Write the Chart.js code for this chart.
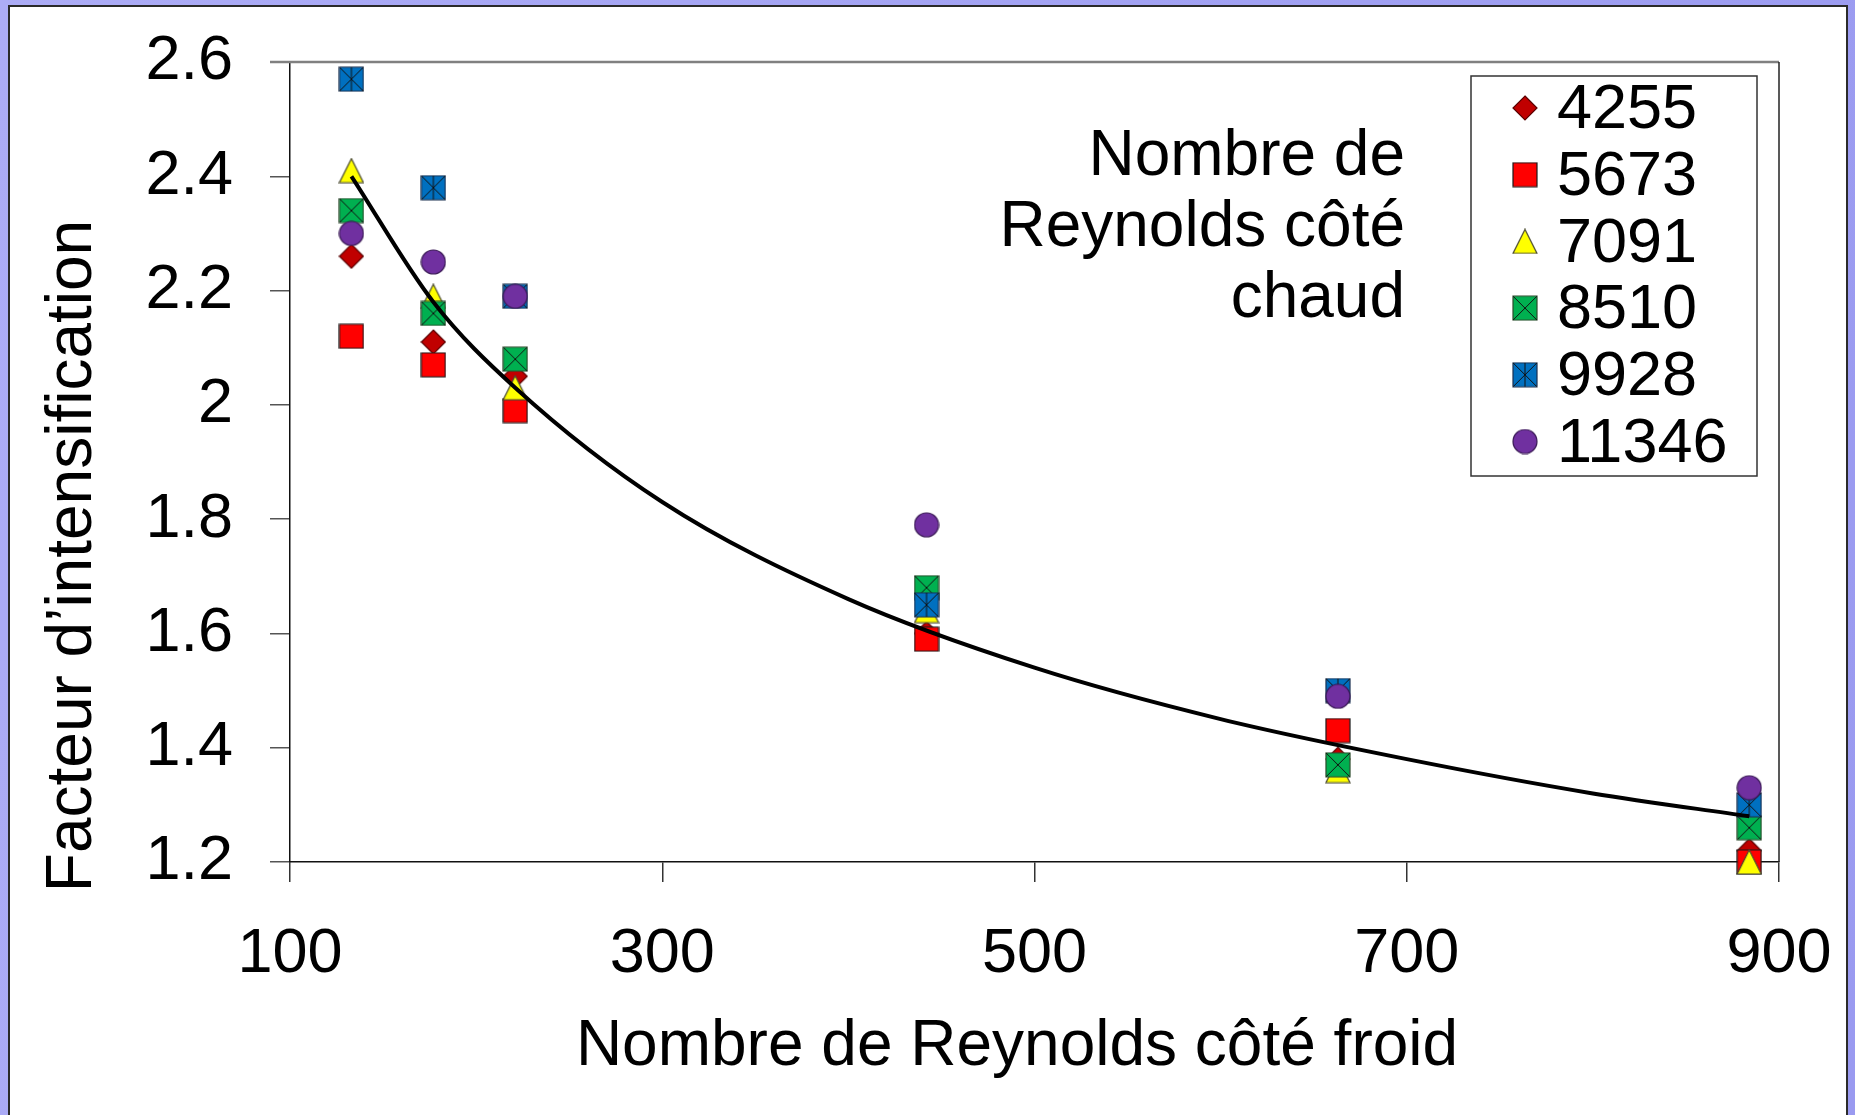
<!DOCTYPE html>
<html>
<head>
<meta charset="utf-8">
<title>Facteur d'intensification</title>
<script src="https://cdn.jsdelivr.net/npm/chart.js@4.4.0/dist/chart.umd.min.js"></script>
<style>
    html, body {
        margin: 0;
        padding: 0;
        width: 1855px;
        height: 1115px;
        overflow: hidden;
        background: linear-gradient(100deg, #acacf6 0%, #a3a3f3 50%, #9a9af0 100%);
    }

    #panel {
        position: absolute;
        left: 8px;
        top: 5px;
        width: 1840px;
        height: 1130px;
        box-sizing: border-box;
        background: #ffffff;
        border: 2px solid #2a2a2a;
    }

    #chart {
        position: absolute;
        left: 0;
        top: 0;
    }
</style>
</head>
<body>

<div id="panel"></div>
<canvas id="chart" width="1855" height="1115"></canvas>

<script>
// ===============================
// DATA
// ===============================

const reynoldsFroid = [133, 177, 221, 442, 663, 884];

const serie4255 = [2.26, 2.11, 2.05, 1.60, 1.38, 1.22];
const serie5673 = [2.12, 2.07, 1.99, 1.59, 1.43, 1.20];
const serie7091 = [2.41, 2.19, 2.03, 1.64, 1.36, 1.20];
const serie8510 = [2.34, 2.16, 2.08, 1.68, 1.37, 1.26];
const serie9928 = [2.57, 2.38, 2.19, 1.65, 1.50, 1.30];
const serie11346 = [2.30, 2.25, 2.19, 1.79, 1.49, 1.33];

const seriesLabels = ["4255", "5673", "7091", "8510", "9928", "11346"];

// trend curve
const trendX = [133, 177, 221, 300, 400, 500, 600, 700, 800, 884];
const trendY = [2.40, 2.18, 2.03, 1.83, 1.66, 1.54, 1.45, 1.38, 1.32, 1.28];

const xTicks = [100, 300, 500, 700, 900];
const yTicks = [1.2, 1.4, 1.6, 1.8, 2.0, 2.2, 2.4, 2.6];
const yTickLabels = ["1.2", "1.4", "1.6", "1.8", "2", "2.2", "2.4", "2.6"];

const xTitle = "Nombre de Reynolds côté froid";
const yTitle = "Facteur d’intensification";
const noteLines = ["Nombre de", "Reynolds côté", "chaud"];

// ===============================
// MARKERS
// ===============================

const FONT = "'Liberation Sans', Arial, sans-serif";

function makeMarker(shape, fill, stroke) {

    const s = 26;
    const c = document.createElement("canvas");
    c.width = s;
    c.height = s;

    const g = c.getContext("2d");
    const m = 1;
    const e = s - 1;

    g.fillStyle = fill;
    g.strokeStyle = stroke;
    g.lineWidth = 1.2;

    g.beginPath();

    if (shape === "diamond") {
        g.moveTo(s / 2, m);
        g.lineTo(e, s / 2);
        g.lineTo(s / 2, e);
        g.lineTo(m, s / 2);
        g.closePath();
    } else if (shape === "triangle") {
        g.moveTo(s / 2, m);
        g.lineTo(e, e);
        g.lineTo(m, e);
        g.closePath();
    } else if (shape === "circle") {
        g.arc(s / 2, s / 2, s / 2 - 1, 0, Math.PI * 2);
    } else {
        g.rect(m, m, e - m, e - m);
    }

    g.fill();
    g.stroke();

    if (shape === "xbox" || shape === "starbox") {
        g.beginPath();
        g.moveTo(m, m);
        g.lineTo(e, e);
        g.moveTo(e, m);
        g.lineTo(m, e);
        if (shape === "starbox") {
            g.moveTo(s / 2, m);
            g.lineTo(s / 2, e);
        }
        g.strokeStyle = "#111";
        g.lineWidth = 1;
        g.stroke();
    }

    return c;
}

const markers = [
    makeMarker("diamond", "#c00000", "#5a0000"),
    makeMarker("square", "#ff0000", "#1a1a1a"),
    makeMarker("triangle", "#ffff00", "#4a4a30"),
    makeMarker("xbox", "#00b050", "#2a4a2a"),
    makeMarker("starbox", "#0070c0", "#1a3050"),
    makeMarker("circle", "#7030a0", "#3a1a55")
];

const seriesValues = [serie4255, serie5673, serie7091, serie8510, serie9928, serie11346];

function toPoints(xs, ys) {
    return xs.map((x, i) => ({ x: x, y: ys[i] }));
}

// scales keep the size we give them and ask for no extra room
function fixScale(size) {
    return scale => {
        if (scale.isHorizontal()) {
            scale.height = size;
        } else {
            scale.width = size;
        }
        scale.paddingTop = 0;
        scale.paddingBottom = 0;
        scale.paddingLeft = 0;
        scale.paddingRight = 0;
    };
}

// ===============================
// PLUGINS
// ===============================

const framePlugin = {

    id: "frame",

    beforeDatasetsDraw(chart) {

        const ctx = chart.ctx;
        const a = chart.chartArea;

        ctx.save();

        ctx.strokeStyle = "#808080";
        ctx.lineWidth = 2.5;
        ctx.beginPath();
        ctx.moveTo(a.left - 20, a.top);
        ctx.lineTo(a.right, a.top);
        ctx.stroke();

        ctx.strokeStyle = "#222";
        ctx.lineWidth = 1.5;
        ctx.beginPath();
        ctx.moveTo(a.right, a.top);
        ctx.lineTo(a.right, a.bottom);
        ctx.stroke();

        ctx.restore();
    }
};

const textPlugin = {

    id: "texts",

    afterDraw(chart) {

        const ctx = chart.ctx;

        ctx.save();
        ctx.fillStyle = "#000";

        // axis titles
        ctx.font = "64px " + FONT;
        ctx.textAlign = "center";
        ctx.textBaseline = "alphabetic";
        ctx.fillText(xTitle, 1017, 1065);

        ctx.save();
        ctx.translate(91, 556);
        ctx.rotate(-Math.PI / 2);
        ctx.fillText(yTitle, 0, 0);
        ctx.restore();

        // note inside the plot
        ctx.textAlign = "right";
        noteLines.forEach((line, i) => {
            ctx.fillText(line, 1405, 175 + i * 71);
        });

        // legend box
        const box = { left: 1471, top: 76, right: 1757, bottom: 476 };

        ctx.fillStyle = "#fff";
        ctx.fillRect(box.left, box.top, box.right - box.left, box.bottom - box.top);
        ctx.strokeStyle = "#333";
        ctx.lineWidth = 1.5;
        ctx.strokeRect(box.left, box.top, box.right - box.left, box.bottom - box.top);

        ctx.font = "63px " + FONT;
        ctx.textAlign = "left";
        ctx.textBaseline = "middle";
        ctx.fillStyle = "#000";

        seriesLabels.forEach((label, i) => {
            const cy = 108 + i * 66.7;
            const img = markers[i];
            ctx.drawImage(img, 1525 - img.width / 2, cy - img.height / 2);
            ctx.fillText(label, 1557, cy + 3);
        });

        ctx.restore();
    }
};

// ===============================
// CHART
// ===============================

const datasets = seriesLabels.map((label, i) => ({
    label: label,
    data: toPoints(reynoldsFroid, seriesValues[i]),
    pointStyle: markers[i],
    pointRadius: 13,
    showLine: false,
    clip: false,
    order: seriesLabels.length - i
}));

datasets.push({
    label: "tendance",
    type: "line",
    data: toPoints(trendX, trendY),
    borderColor: "#000",
    borderWidth: 4,
    pointRadius: 0,
    cubicInterpolationMode: "monotone",
    fill: false,
    clip: false,
    order: 0
});

const tickFont = { family: FONT, size: 63 };

new Chart(document.getElementById("chart"), {

    type: "scatter",

    data: { datasets: datasets },

    plugins: [framePlugin, textPlugin],

    options: {

        responsive: false,
        devicePixelRatio: 1,
        animation: false,
        events: [],

        layout: {
            padding: { left: 0, top: 62, right: 76, bottom: 0 }
        },

        plugins: {
            legend: { display: false },
            tooltip: { enabled: false }
        },

        scales: {

            x: {
                type: "linear",
                min: 100,
                max: 900,
                afterFit: fixScale(253),
                afterBuildTicks: scale => {
                    scale.ticks = xTicks.map(v => ({ value: v }));
                },
                ticks: {
                    color: "#000",
                    font: tickFont,
                    padding: 35,
                    maxRotation: 0,
                    callback: v => String(v)
                },
                grid: {
                    drawOnChartArea: false,
                    drawTicks: true,
                    tickLength: 20,
                    color: "#333",
                    lineWidth: 1.5
                },
                border: { display: true, color: "#111", width: 1.5 }
            },

            y: {
                type: "linear",
                min: 1.2,
                max: 2.6,
                afterFit: fixScale(290),
                afterBuildTicks: scale => {
                    scale.ticks = yTicks.map(v => ({ value: v }));
                },
                ticks: {
                    color: "#000",
                    font: tickFont,
                    padding: 37,
                    callback: (v, i) => yTickLabels[i]
                },
                grid: {
                    drawOnChartArea: false,
                    drawTicks: true,
                    tickLength: 20,
                    color: "#555",
                    lineWidth: 1.5
                },
                border: { display: true, color: "#111", width: 1.5 }
            }
        }
    }
});
</script>
</body>
</html>
